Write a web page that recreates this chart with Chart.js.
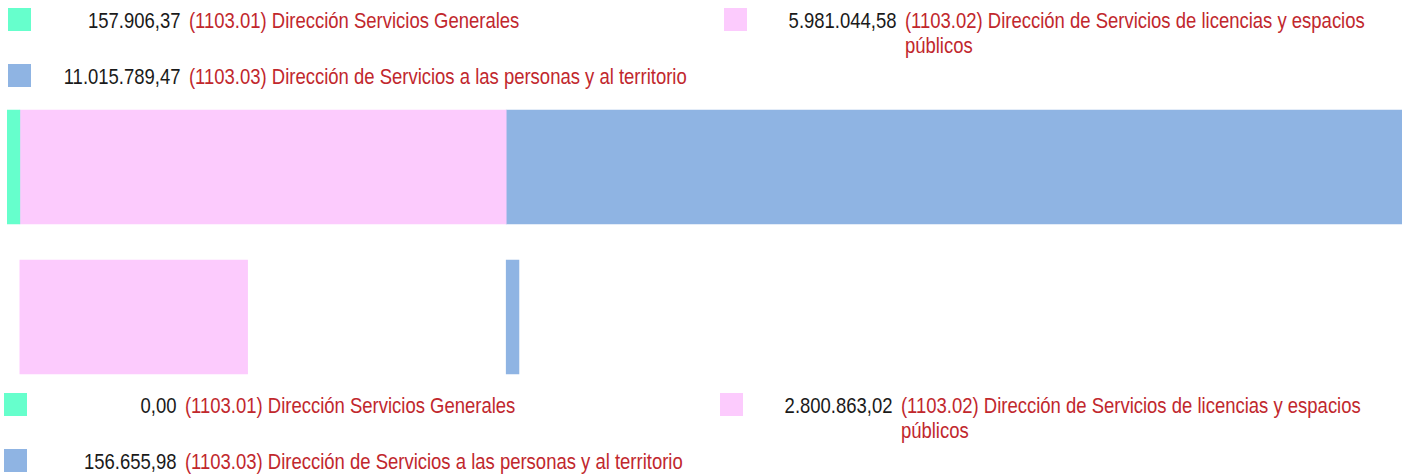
<!DOCTYPE html>
<html>
<head>
<meta charset="utf-8">
<script src="https://cdn.jsdelivr.net/npm/chart.js@4/dist/chart.umd.min.js"></script>
<style>
  html, body { margin: 0; padding: 0; background: #fff; }
  body { width: 1413px; height: 476px; position: relative; overflow: hidden;
         font-family: "Liberation Sans", Arial, sans-serif; font-size: 22px; }
  .legend { position: absolute; display: grid; grid-template-columns: 716px 716px; row-gap: 6px; }
  .item { display: flex; align-items: flex-start; line-height: 25px; }
  .swatch { flex: none; width: 23px; height: 23px; }
  /* narrow look: text laid out wide, then squeezed */
  .text { flex: none; display: flex; width: 820px; transform: scaleX(0.84); transform-origin: 0 0; }
  .num { flex: none; width: 178px; text-align: right; color: #1a1a1a; white-space: nowrap; }
  .lab { flex: none; width: 613px; margin-left: 10px; color: #c1272d; }
  #chartBox { position: absolute; left: 7px; top: 92px; width: 1395px; height: 300px; }
</style>
</head>
<body>
<div id="topLegend" class="legend" style="left:8px; top:8px"></div>
<div id="chartBox"><canvas id="chart"></canvas></div>
<div id="bottomLegend" class="legend" style="left:4px; top:393px"></div>
<script>
const categories = [
    "(1103.01) Dirección Servicios Generales",
    "(1103.02) Dirección de Servicios de licencias y espacios públicos",
    "(1103.03) Dirección de Servicios a las personas y al territorio",
];
const budget = [157906.37, 5981044.58, 11015789.47];
const executed = [0.0, 2800863.02, 156655.98];
const colors = ["#66ffcc", "#fccbfd", "#8fb4e3"];
const rows = ["Presupuesto", "Ejecutado"];

const formatNumber = (v) => {
    const parts = v.toFixed(2).split(".");
    const ints = parts[0].replace(/\B(?=(\d{3})+(?!\d))/g, ".");
    return ints + "," + parts[1];
};

const buildLegend = (el, values) => {
    categories.forEach((cat, i) => {
        const item = document.createElement("div");
        item.className = "item";
        item.innerHTML =
            '<span class="swatch" style="background:' + colors[i] + '"></span>' +
            '<div class="text"><span class="num">' + formatNumber(values[i]) + "</span>" +
            '<span class="lab">' + cat + "</span></div>";
        el.appendChild(item);
    });
};

buildLegend(document.getElementById("topLegend"), budget);
buildLegend(document.getElementById("bottomLegend"), executed);

// each segment starts where its budget segment starts in the stacked total
const starts = [];
let acc = 0;
budget.forEach((b) => {
    starts.push(acc);
    acc += b;
});
const total = acc;

const chart = new Chart(document.getElementById("chart"), {
    type: "bar",
    data: {
        labels: rows,
        datasets: categories.map((cat, i) => ({
            label: cat,
            data: [
                [starts[i], starts[i] + budget[i]],
                executed[i] > 0 ? [starts[i], starts[i] + executed[i]] : null,
            ],
            backgroundColor: colors[i],
            borderWidth: 0,
            barThickness: 114,
            grouped: false,
        })),
    },
    options: {
        indexAxis: "y",
        responsive: true,
        maintainAspectRatio: false,
        animation: false,
        layout: { padding: 0 },
        plugins: {
            legend: { display: false },
            tooltip: { enabled: false },
        },
        scales: {
            x: { display: false, min: 0, max: total },
            y: { display: false },
        },
    },
});
</script>
</body>
</html>
